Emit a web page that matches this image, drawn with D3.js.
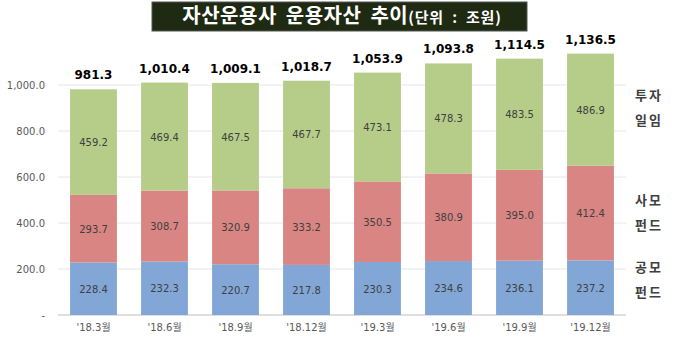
<!DOCTYPE html>
<html><head><meta charset="utf-8">
<script src="https://cdn.jsdelivr.net/npm/d3@7"></script>
<style>body{margin:0;background:#fff;} svg{display:block;}</style>
</head><body>
<svg id="c" width="680" height="346"></svg>
<script>
const categories = ["'18.3월","'18.6월","'18.9월","'18.12월","'19.3월","'19.6월","'19.9월","'19.12월"];
const publicFund = [228.4,232.3,220.7,217.8,230.3,234.6,236.1,237.2];
const privateFund = [293.7,308.7,320.9,333.2,350.5,380.9,395.0,412.4];
const discretionary = [459.2,469.4,467.5,467.7,473.1,478.3,483.5,486.9];
const totals = [981.3,1010.4,1009.1,1018.7,1053.9,1093.8,1114.5,1136.5];
const yTicks = [0,200,400,600,800,1000];
const seriesNames = [["공모","펀드"],["사모","펀드"],["투자","일임"]];
const colors = ["#82a7d6","#d98583","#b6cd89"];

const svg = d3.select("#c");
const font = "'Malgun Gothic','Noto Sans CJK KR',sans-serif";
const numFont = "'DejaVu Sans','Noto Sans CJK KR',sans-serif";

// title
svg.append("rect").attr("x",152).attr("y",2).attr("width",375).attr("height",29).attr("fill","#1f2a12").attr("stroke","#555").attr("stroke-width",1);
const t = svg.append("text").attr("x",342).attr("y",23).attr("text-anchor","middle").attr("fill","#fff").attr("font-family",font).attr("word-spacing",4);
t.append("tspan").attr("font-size",20).attr("font-weight","bold").attr("letter-spacing",0.5).text("자산운용사 운용자산 추이");
t.append("tspan").attr("font-size",15).attr("font-weight","bold").attr("letter-spacing",0.8).text("(단위 : 조원)");

const x = d3.scaleBand().domain(categories).range([58,626]).paddingInner(0.34).paddingOuter(0.17);
const y = d3.scaleLinear().domain([0,1000]).range([315,85]);

// gridlines
svg.append("g").selectAll("line").data(yTicks).join("line")
  .attr("x1",58).attr("x2",626).attr("y1",d=>y(d)).attr("y2",d=>y(d))
  .attr("stroke",d=>d===0?"#bfbfbf":"#e6e6e6").attr("stroke-width",1);

// y axis
const yAxis = d3.axisLeft(y).tickValues(yTicks).tickSize(0).tickPadding(0)
  .tickFormat(d=>d===0?"-":d3.format(",.1f")(d));
const ya = svg.append("g").attr("transform","translate(45,0)").call(yAxis);
ya.select(".domain").remove();
ya.selectAll("text").attr("font-family",numFont).attr("font-size",10).attr("fill","#595959");

// stacks
const rows = categories.map((c,i)=>({cat:c, s0:publicFund[i], s1:privateFund[i], s2:discretionary[i]}));
const stack = d3.stack().keys(["s0","s1","s2"])(rows);
const g = svg.append("g");
stack.forEach((layer,li)=>{
  g.selectAll(null).data(layer).join("rect")
    .attr("x",d=>x(d.data.cat)).attr("width",x.bandwidth())
    .attr("y",d=>y(d[1])).attr("height",d=>y(d[0])-y(d[1]))
    .attr("fill",colors[li]);
  g.selectAll(null).data(layer).join("text")
    .attr("x",d=>x(d.data.cat)+x.bandwidth()/2)
    .attr("y",d=>(y(d[0])+y(d[1]))/2+4)
    .attr("text-anchor","middle").attr("font-family",numFont).attr("font-size",10)
    .attr("fill","#404040").text(d=>d3.format(".1f")(d[1]-d[0]));
});

// totals
svg.append("g").selectAll("text").data(categories).join("text")
  .attr("x",d=>x(d)+x.bandwidth()/2).attr("y",(d,i)=>y(totals[i])-10)
  .attr("text-anchor","middle").attr("font-family",numFont).attr("font-size",12).attr("font-weight","bold")
  .attr("fill","#000").text((d,i)=>d3.format(",.1f")(totals[i]));

// x axis
const xa = svg.append("g").attr("transform","translate(0,315)").call(d3.axisBottom(x).tickSize(0).tickPadding(9));
xa.select(".domain").remove();
xa.selectAll("text").attr("font-family",numFont).attr("font-size",10).attr("fill","#595959");

// legend labels
const legY = [[272,297],[205,230],[100,125]];
seriesNames.forEach((n,i)=>{
  n.forEach((w,j)=>{
    svg.append("text").attr("x",649).attr("y",legY[i][j]).attr("text-anchor","middle")
      .attr("font-family",font).attr("font-size",13).attr("font-weight","bold").attr("fill","#404040")
      .attr("letter-spacing",2).text(w);
  });
});
</script>
</body></html>
